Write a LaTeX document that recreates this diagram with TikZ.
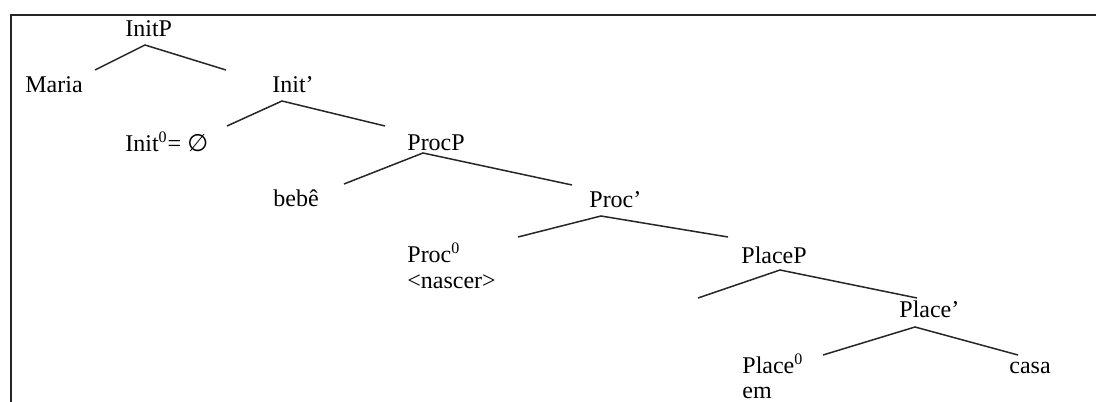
\documentclass[tikz,border=0pt]{standalone}
\usepackage{fontspec}
\setmainfont{Liberation Serif}
\newfontfamily\symfont{DejaVu Sans}
\begin{document}
\begin{tikzpicture}[x=0.5pt,y=-0.5pt,
  lbl/.style={anchor=base west, inner sep=0pt, font=\fontsize{12}{14}\selectfont},
  branch/.style={line width=0.75pt, black!85},
  frame/.style={line width=1pt, black!85, line cap=rect}]
\useasboundingbox (0,0) rectangle (1096,401);

% surrounding frame (open at bottom and right)
\draw[frame] (11,401) -- (11,15) -- (1096,15);

% labels
\node[lbl] (initp)    at (125,37)  {InitP};
\node[lbl] (maria)    at (25,93)   {Maria};
\node[lbl] (initbar)  at (272,93)  {Init’};
\node[lbl] (init0)    at (125,151) {Init\textsuperscript{0}= {\symfont ∅}};
\node[lbl] (procp)    at (407,150) {ProcP};
\node[lbl] (bebe)     at (273,206) {bebê};
\node[lbl] (procbar)  at (589,207) {Proc’};
\node[lbl] (proc0)    at (407,262) {Proc\textsuperscript{0}};
\node[lbl] (nascer)   at (407,288) {<nascer>};
\node[lbl] (placep)   at (741,263) {PlaceP};
\node[lbl] (placebar) at (899,317) {Place’};
\node[lbl] (place0)   at (742,373) {Place\textsuperscript{0}};
\node[lbl] (em)       at (742,398) {em};
\node[lbl] (casa)     at (1009,373) {casa};

% branch points
\coordinate (initp-v) at (145,45);  \coordinate (initp-l) at (95,70);   \coordinate (initp-r) at (226,70);
\coordinate (initbar-v) at (282,101); \coordinate (initbar-l) at (227,126); \coordinate (initbar-r) at (385,126);
\coordinate (procp-v) at (423,153); \coordinate (procp-l) at (344,184); \coordinate (procp-r) at (572,185);
\coordinate (procbar-v) at (601,216); \coordinate (procbar-l) at (518,237); \coordinate (procbar-r) at (728,237);
\coordinate (placep-v) at (780,270); \coordinate (placep-l) at (698,298); \coordinate (placep-r) at (917,298);
\coordinate (placebar-v) at (915,327); \coordinate (placebar-l) at (823,355); \coordinate (placebar-r) at (1018,355);

% branches
\draw[branch] (initp-l) -- (initp-v) -- (initp-r);
\draw[branch] (initbar-l) -- (initbar-v) -- (initbar-r);
\draw[branch] (procp-l) -- (procp-v) -- (procp-r);
\draw[branch] (procbar-l) -- (procbar-v) -- (procbar-r);
\draw[branch] (placep-l) -- (placep-v) -- (placep-r);
\draw[branch] (placebar-l) -- (placebar-v) -- (placebar-r);
\end{tikzpicture}
\end{document}
